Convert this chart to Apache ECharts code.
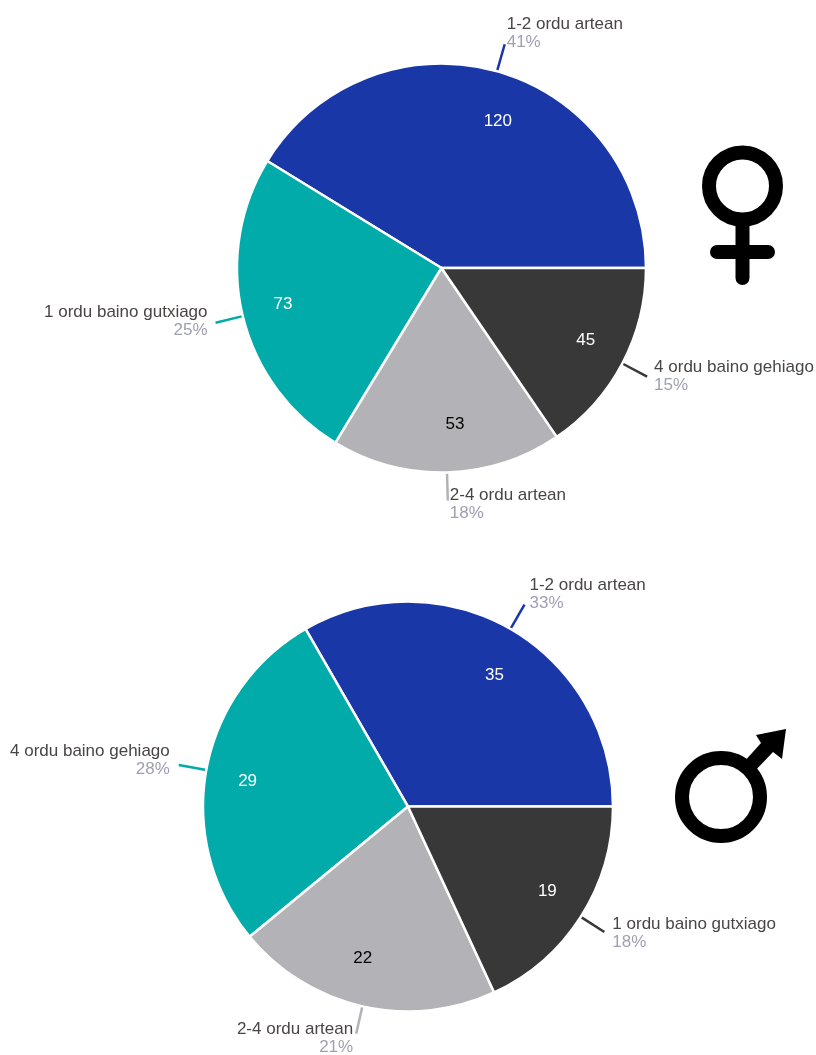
<!DOCTYPE html>
<html>
<head>
<meta charset="utf-8">
<style>html,body{margin:0;padding:0;background:#fff}#c{width:816px;height:1055px}</style>
<script src="https://cdn.jsdelivr.net/npm/echarts@6/dist/echarts.min.js"></script>
</head>
<body>
<div id="c"></div>
<script>
const womenCategories = ['1-2 ordu artean', '1 ordu baino gutxiago', '2-4 ordu artean', '4 ordu baino gehiago'];
const womenValues = [120, 73, 53, 45];
const menCategories = ['1-2 ordu artean', '4 ordu baino gehiago', '2-4 ordu artean', '1 ordu baino gutxiago'];
const menValues = [35, 29, 22, 19];
const sliceColors = ['#1a37a8', '#00aba9', '#b3b2b7', '#383838'];
const valueColors = ['#ffffff', '#ffffff', '#000000', '#ffffff'];
const FONT = '"Liberation Sans", Arial, sans-serif';

// per-slice nudges of the outer label block: padding [top,right,bottom,left]
function outerSeries(cats, vals, center, radius, pads) {
  const total = vals.reduce((a, b) => a + b, 0);
  return {
    type: 'pie', center, radius, startAngle: 0, clockwise: false,
    avoidLabelOverlap: false, animation: false, silent: true,
    itemStyle: { borderColor: '#fff', borderWidth: 2.5 },
    labelLine: { show: true, length: 28, length2: 0, smooth: false, lineStyle: { width: 2.5 } },
    data: cats.map((name, i) => ({
      name, value: vals[i],
      itemStyle: { color: sliceColors[i] },
      labelLine: { lineStyle: { color: sliceColors[i] } },
      label: {
        show: true, position: 'outside', padding: pads[i], distanceToLabelLine: 2,
        formatter: p => '{n|' + p.name + '}\n{p|' + Math.round(p.value / total * 100) + '%}',
        rich: {
          n: { fontFamily: FONT, fontSize: 17, color: '#4a4545', lineHeight: 18 },
          p: { fontFamily: FONT, fontSize: 17, color: '#a09fb2', lineHeight: 18 }
        }
      }
    }))
  };
}
function innerSeries(cats, vals, center, radius, nudges) {
  return {
    type: 'pie', center, radius, startAngle: 0, clockwise: false,
    avoidLabelOverlap: false, animation: false, silent: true,
    itemStyle: { color: 'transparent', borderWidth: 0 },
    labelLine: { show: false },
    labelLayout: p => ({ dx: nudges[p.dataIndex][0], dy: nudges[p.dataIndex][1] }),
    data: cats.map((name, i) => ({
      name, value: vals[i],
      label: {
        show: true, position: 'inside', formatter: '{c}',
        fontFamily: FONT, fontSize: 17, color: valueColors[i]
      }
    }))
  };
}
function ring(cx, cy, r) {
  return { type: 'circle', shape: { cx, cy, r }, style: { fill: 'none', stroke: '#000', lineWidth: 14 } };
}
function bar(x1, y1, x2, y2) {
  return { type: 'line', shape: { x1, y1, x2, y2 }, style: { stroke: '#000', lineWidth: 14, lineCap: 'round' } };
}
const chart = echarts.init(document.getElementById('c'), null, { renderer: 'canvas' });
chart.setOption({
  animation: false,
  backgroundColor: '#ffffff',
  series: [
    outerSeries(womenCategories, womenValues, [441.5, 268], 204.5, [[0,0,22,0],[0,6,2,0],[8,0,0,0],[0,0,0,5]]),
    innerSeries(womenCategories, womenValues, [441.5, 268], [120, 200], [[12,10],[0,-2],[9,-7],[0,-4]]),
    outerSeries(menCategories, menValues, [408, 806.5], 205, [[0,0,21,3],[0,7,10,0],[10,1,0,0],[2,0,0,6]]),
    innerSeries(menCategories, menValues, [408, 806.5], [120, 200], [[5,10],[0,4],[-9,-7],[2,-3]])
  ],
  graphic: [
    ring(742.5, 186, 33.5), bar(742.5, 226, 742.5, 278), bar(717, 252, 768, 252),
    ring(721, 797, 39),
    { type: 'polygon', shape: { points: [[786,729],[756,735],[761,743],[743,763],[753,773],[773,752],[782,759]] }, style: { fill: '#000' } }
  ]
});
</script>
</body>
</html>
